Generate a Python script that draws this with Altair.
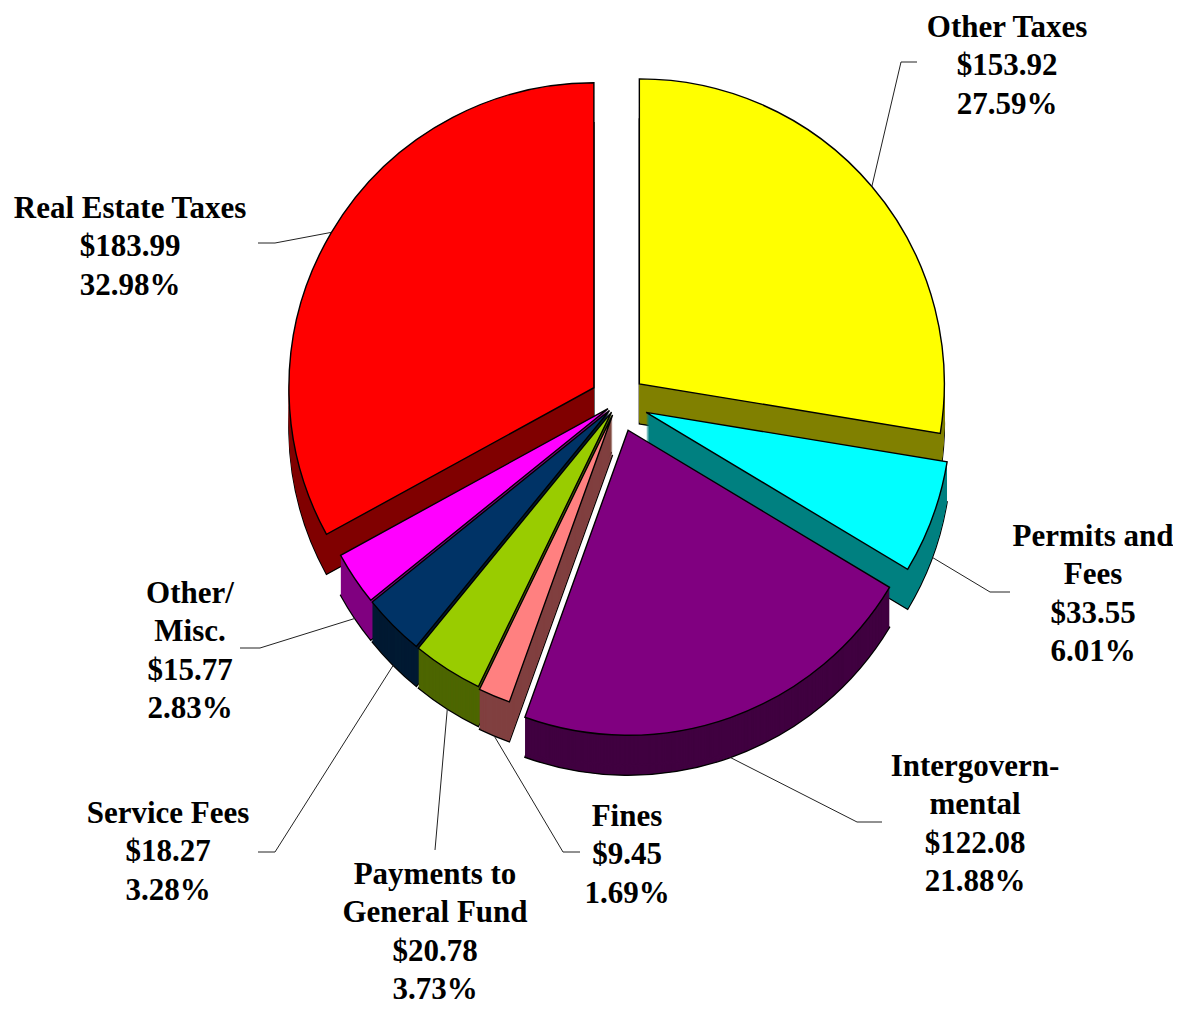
import altair as alt
import pandas as pd

# ---------------- data ----------------
categories = ["Other Taxes", "Permits and Fees", "Intergovernmental", "Fines",
              "Payments to General Fund", "Service Fees", "Other/Misc.", "Real Estate Taxes"]
values = [153.92, 33.55, 122.08, 9.45, 20.78, 18.27, 15.77, 183.99]
percents = ["27.59%", "6.01%", "21.88%", "1.69%", "3.73%", "3.28%", "2.83%", "32.98%"]
name_lines = [["Other Taxes"], ["Permits and", "Fees"], ["Intergovern-", "mental"], ["Fines"],
              ["Payments to", "General Fund"], ["Service Fees"], ["Other/", "Misc."],
              ["Real Estate Taxes"]]

# ---------------- style / layout ----------------
top_colors = ["#FFFF00", "#00FFFF", "#800080", "#FF8080", "#99CC00", "#003366", "#FF00FF", "#FF0000"]
side_colors = ["#808000", "#008080", "#400040", "#804040", "#4D6600", "#001A33", "#800080", "#800000"]
explode = [28, 30, 30, 14, 12, 12, 12, 28]

OFF = 8                      # page margin
CX, CY = 618 - OFF, 402 - OFF
R = 305
DEPTH = 40
FONT = "Liberation Serif"
FS = 31
LH = 38.3

# label layout (page coords): text centre x, first baseline y, elbow x, elbow y, end x
label_layout = {
    "Other Taxes": (1007, 37, 901, 62, 917),
    "Permits and Fees": (1093, 546, 990, 592, 1010),
    "Intergovernmental": (975, 776, 857, 822, 882),
    "Fines": (627, 826, 563, 852, 580),
    "Payments to General Fund": (435, 884, 435, 850, 435),
    "Service Fees": (168, 823, 275, 852, 258),
    "Other/Misc.": (190, 603, 260, 648, 240),
    "Real Estate Taxes": (130, 218, 275, 243, 258),
}

rows = []
for i, c in enumerate(categories):
    tx, ty, ex, ey, endx = label_layout[c]
    rows.append({
        "category": c, "value": values[i], "order": i, "explode": explode[i],
        "top": top_colors[i], "side": side_colors[i],
        "label": "\n".join(name_lines[i] + [f"${values[i]:.2f}", percents[i]]),
        "tx": tx - OFF, "ty": ty - OFF, "ex": ex - OFF, "ey": ey - OFF, "endx": endx - OFF,
    })
df = pd.DataFrame(rows)

base = (
    alt.Chart(df)
    .transform_window(cum="sum(value)", sort=[alt.SortField("order")], frame=[None, 0])
    .transform_joinaggregate(total="sum(value)")
    .transform_calculate(
        start="(datum.cum - datum.value) / datum.total * 2 * PI",
        end="datum.cum / datum.total * 2 * PI",
    )
    .transform_calculate(mid="(datum.start + datum.end) / 2")
    .transform_calculate(
        cx=f"{CX} + datum.explode * sin(datum.mid)",
        cy=f"{CY} - datum.explode * cos(datum.mid)",
    )
)

def arc_layer(yexpr, color_field, stroke):
    kw = dict(radius=R)
    if stroke:
        kw.update(stroke="black", strokeWidth=1.4)
    else:
        kw.update(strokeWidth=0)
    return base.transform_calculate(yy=yexpr).mark_arc(**kw).encode(
        theta=alt.Theta("start:Q", scale=None),
        theta2="end:Q",
        x=alt.X("cx:Q", scale=None, axis=None),
        y=alt.Y("yy:Q", scale=None, axis=None),
        color=alt.Color(f"{color_field}:N", scale=None, legend=None),
    )

layers = [arc_layer(f"datum.cy + {DEPTH}", "side", True)]
for off in range(DEPTH - 1, 0, -1):
    layers.append(arc_layer(f"datum.cy + {off}", "side", False))
layers.append(arc_layer("datum.cy", "top", True))

leaders = base.transform_calculate(
    sx=f"datum.cx + {R} * sin(datum.mid)",
    sy=f"datum.cy - {R} * cos(datum.mid) + (cos(datum.mid) < 0 ? {DEPTH} : 0)",
)
seg1 = leaders.mark_rule(color="#222222", strokeWidth=1).encode(
    x=alt.X("sx:Q", scale=None, axis=None), y=alt.Y("sy:Q", scale=None, axis=None),
    x2="ex:Q", y2="ey:Q",
)
seg2 = leaders.mark_rule(color="#222222", strokeWidth=1).encode(
    x=alt.X("ex:Q", scale=None, axis=None), y=alt.Y("ey:Q", scale=None, axis=None),
    x2="endx:Q", y2="ey:Q",
)
text = base.mark_text(
    font=FONT, fontSize=FS, fontWeight="bold", color="black",
    align="center", baseline="alphabetic", lineBreak="\n", lineHeight=LH,
).encode(
    x=alt.X("tx:Q", scale=None, axis=None), y=alt.Y("ty:Q", scale=None, axis=None),
    text="label:N",
)

chart = (
    alt.layer(*layers, seg1, seg2, text)
    .properties(width=1165, height=1001, autosize="none", padding=0, background="white")
    .configure_view(stroke=None)
)

chart.save("out.html", embed_options={"renderer": "svg", "actions": False})
